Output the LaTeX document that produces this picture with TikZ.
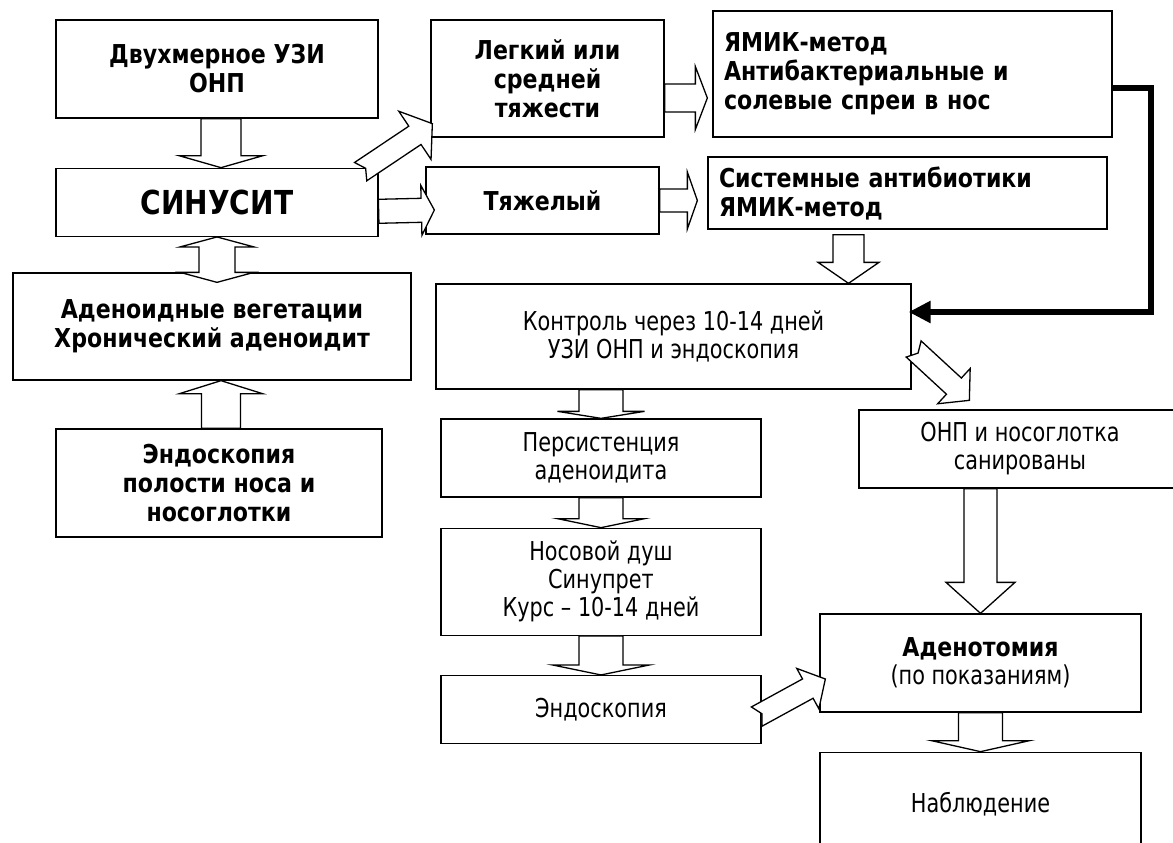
\documentclass[tikz,border=0pt]{standalone}
\usepackage{fontspec}
\setmainfont{DejaVu Sans}
\newfontfamily\narrowfont[FakeStretch=0.8]{DejaVu Sans}
\newfontfamily\headfont[FakeStretch=0.85]{DejaVu Sans}
\usetikzlibrary{positioning,calc,arrows.meta}
\newcommand*\boldtxt{\headfont\fontsize{26}{29}\selectfont\bfseries}
\newcommand*\plaintxt{\narrowfont\fontsize{26}{28}\selectfont}
\newcommand*\blockarrow[6]{%
  \coordinate (ba-h) at ($(#2)!#5pt!(#1)$);
  \coordinate (ba-n) at ($(#1)!#6pt!(#2)$);
  \draw[blockarr] ($(#1)!#3pt!90:(#2)$) -- ($(ba-h)!#3pt!90:(#2)$)
    -- ($(ba-h)!#4pt!90:(#2)$) -- (#2) -- ($(ba-h)!#4pt!-90:(#2)$)
    -- ($(ba-h)!#3pt!-90:(#2)$) -- ($(#1)!#3pt!-90:(#2)$) -- (ba-n) -- cycle;}
\newcommand*\dblarrow[5]{%
  \coordinate (ba-h) at ($(#2)!#5pt!(#1)$);
  \coordinate (ba-t) at ($(#1)!#5pt!(#2)$);
  \draw[blockarr] (#1) -- ($(ba-t)!#4pt!90:(#2)$) -- ($(ba-t)!#3pt!90:(#2)$)
    -- ($(ba-h)!#3pt!90:(#2)$) -- ($(ba-h)!#4pt!90:(#2)$) -- (#2)
    -- ($(ba-h)!#4pt!-90:(#2)$) -- ($(ba-h)!#3pt!-90:(#2)$)
    -- ($(ba-t)!#3pt!-90:(#2)$) -- ($(ba-t)!#4pt!-90:(#2)$) -- cycle;}

\begin{document}
\begin{tikzpicture}[x=1pt,y=-1pt,
    box/.style={draw,line width=1.3pt,fill=white,align=center,inner sep=0pt},
    blockarr/.style={draw,line width=1.3pt,fill=white,line join=miter},
    fatline/.style={line width=6pt,-{Triangle[length=22pt,width=21pt]}}]
   \clip (0,0) rectangle (1173,843);
   \fill[white] (0,0) rectangle (1173,843);

   \node[box,font=\boldtxt,minimum width=322pt,minimum height=98pt] (dvuh) at (217,69) {Двухмерное УЗИ\\ОНП};
   \node[box,font=\headfont\fontsize{33}{38}\selectfont\bfseries,minimum width=322pt,minimum height=68pt] (sinus) [below=49pt of dvuh] {СИНУСИТ};
   \node[box,font=\boldtxt,minimum width=398pt,minimum height=107pt] (aden) at (212,326.5) {Аденоидные вегетации\\Хронический аденоидит};
   \node[box,font=\boldtxt,minimum width=326pt,minimum height=108pt] (endopol) at (219,483) {Эндоскопия\\полости носа и\\носоглотки};
   \node[box,font=\boldtxt,minimum width=233pt,minimum height=117pt] (legk) at (547.5,78.5) {Легкий или\\средней\\тяжести};
   \node[box,font=\boldtxt,minimum width=233pt,minimum height=67pt] (tyazh) at (542.5,200.5) {Тяжелый};
   \node[box,font=\boldtxt,align=left,text width=377pt,inner xsep=11pt,minimum height=126pt] (yamik) at (912.5,74) {ЯМИК-метод\\Антибактериальные и\\солевые спреи в нос};
   \node[box,font=\boldtxt,align=left,text width=377pt,inner xsep=11pt,minimum height=72pt] (sist) at (907.5,193) {Системные антибиотики\\ЯМИК-метод};
   \node[box,font=\plaintxt,minimum width=475pt,minimum height=105pt] (kontrol) at (673.5,336.5) {Контроль через 10-14 дней\\УЗИ ОНП и эндоскопия};
   \node[box,font=\plaintxt,minimum width=320pt,minimum height=78pt] (persist) at (601,458) {Персистенция\\аденоидита};
   \node[box,font=\plaintxt,minimum width=320pt,minimum height=107pt] (nosdush) [below=30pt of persist] {Носовой душ\\Синупрет\\Курс – 10-14 дней};
   \node[box,font=\plaintxt,minimum width=320pt,minimum height=68pt] (endosk) [below=39pt of nosdush] {Эндоскопия};
   \node[box,font=\plaintxt,minimum width=322pt,minimum height=78pt] (onp) at (1020,449) {ОНП и носоглотка\\санированы};
   \node[box,font=\plaintxt,minimum width=321pt,minimum height=98pt] (adenot) at (980.5,663) {{\boldtxt Аденотомия}\\(по показаниям)};
   \node[box,font=\plaintxt,minimum width=321pt,minimum height=104pt] (nabl) [below=39pt of adenot] {Наблюдение};

   \coordinate (a1) at ([xshift=4pt]dvuh.south);
   \coordinate (a2) at ([xshift=4pt]sinus.north);
   \blockarrow{a1}{a2}{20}{42}{12}{0}
   \coordinate (b2) at ([xshift=5pt,yshift=-10pt]aden.north);
   \dblarrow{sinus.south}{b2}{18}{37}{10}
   \coordinate (c1) at ([xshift=2pt]endopol.north);
   \coordinate (c2) at ([xshift=9pt]aden.south);
   \blockarrow{c1}{c2}{19.5}{41.5}{13}{0}
   \coordinate (d1) at ($(sinus.north east)+(-18,4)$);
   \coordinate (d2) at ($(legk.south west)+(2,-14)$);
   \blockarrow{d1}{d2}{11}{29}{21}{6}
   \coordinate (e1) at ([yshift=-9pt]sinus.east);
   \coordinate (e2) at ([xshift=9pt,yshift=-9.5pt]tyazh.west);
   \blockarrow{e1}{e2}{12}{25}{13}{0}
   \coordinate (f1) at ([yshift=-19.5pt]legk.east);
   \coordinate (f2) at ([xshift=-5pt,yshift=-24pt]yamik.west);
   \blockarrow{f1}{f2}{14}{31.5}{12}{0}
   \coordinate (g2) at ([xshift=-10pt,yshift=-7.5pt]sist.west);
   \blockarrow{tyazh.east}{g2}{11.5}{28.5}{10}{0}
   \coordinate (h1) at ([xshift=-59pt,yshift=-5pt]sist.south);
   \coordinate (h2) at ([xshift=175pt]kontrol.north);
   \blockarrow{h1}{h2}{15.5}{30.5}{21}{0}
   \coordinate (j1) at ($(kontrol.east)+(2,12.5)$);
   \coordinate (j2) at ($(onp.north west)+(111,-9)$);
   \blockarrow{j1}{j2}{11}{24}{21}{6}
   \coordinate (k1) at ([xshift=-72.5pt]kontrol.south);
   \blockarrow{k1}{persist.north}{22}{43.5}{7}{0}
   \blockarrow{persist.south}{nosdush.north}{22}{43.5}{9}{0}
   \blockarrow{nosdush.south}{endosk.north}{22}{48.5}{10}{0}
   \coordinate (n1) at ([xshift=-39.5pt]onp.south);
   \blockarrow{n1}{adenot.north}{16.5}{34.5}{31}{0}
   \blockarrow{adenot.south}{nabl.north}{22}{49}{11}{0}
   \coordinate (p1) at ($(endosk.east)+(-5,7)$);
   \coordinate (p2) at ($(adenot.west)+(6,16)$);
   \blockarrow{p1}{p2}{11}{23}{20}{6}

   \draw[fatline] ([yshift=-14pt]yamik.east) -- ++(38,0) |- ([xshift=-3pt,yshift=24.5pt]kontrol.east);
\end{tikzpicture}
\end{document}
